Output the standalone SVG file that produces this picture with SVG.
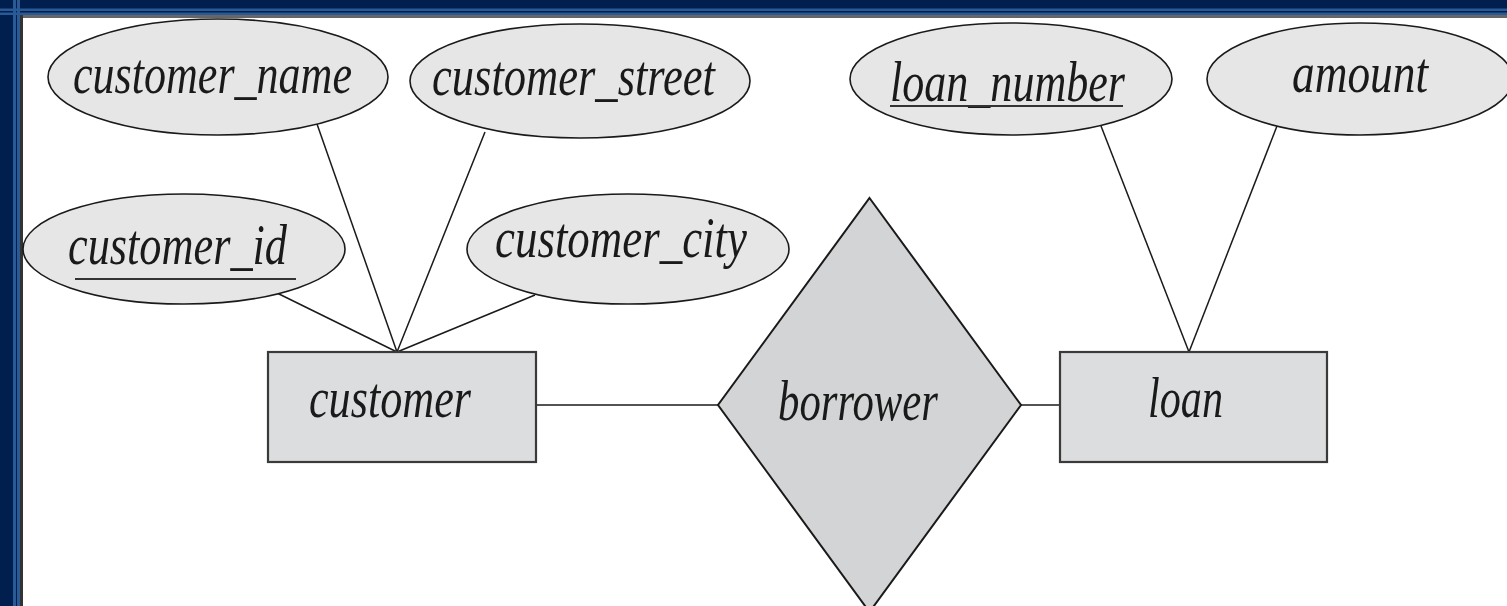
<svg xmlns="http://www.w3.org/2000/svg" width="1507" height="606" viewBox="0 0 1507 606">
<style>
.attr{fill:#e6e6e6;stroke:#1a1a1a;stroke-width:1.6}
.ent{fill:#dcdddf;stroke:#3a3a3a;stroke-width:2.2}
.rel{fill:#d2d4d6;stroke:#1a1a1a;stroke-width:2}
.lbl{font-family:"Liberation Serif","Times New Roman",serif;font-style:italic;font-size:56px;fill:#1a1a1a}
.conn line{stroke:#1a1a1a;stroke-width:1.5}
.ul{stroke:#333;stroke-width:2}
</style>
<rect x="0" y="0" width="1507" height="606" fill="#001f4f"/>
<rect x="0" y="8.5" width="1507" height="2.5" fill="#2a5a96"/>
<rect x="0" y="12.5" width="1507" height="2.5" fill="#2a5a96"/>
<rect x="13" y="0" width="3" height="606" fill="#2a5a96"/>
<rect x="17" y="0" width="3" height="606" fill="#2a5a96"/>
<rect x="20" y="15" width="1487" height="3" fill="#666"/>
<rect x="20" y="15" width="3" height="591" fill="#333"/>
<rect x="23" y="18" width="1484" height="588" fill="#ffffff"/>
<g id="connectors" class="conn">
<line x1="317" y1="124" x2="397" y2="352"/>
<line x1="485" y1="132" x2="397" y2="352"/>
<line x1="277" y1="293" x2="397" y2="352"/>
<line x1="535" y1="295" x2="397" y2="352"/>
<line x1="1101" y1="126" x2="1189" y2="352"/>
<line x1="1277" y1="126" x2="1189" y2="352"/>
<line x1="536" y1="405" x2="718" y2="405"/>
<line x1="1021" y1="405" x2="1060" y2="405"/>
</g>
<g id="customer_name">
<ellipse class="attr" cx="218" cy="77" rx="170" ry="58"/>
<text class="lbl" x="73" y="93" textLength="279" lengthAdjust="spacingAndGlyphs">customer_name</text>
</g>
<g id="customer_street">
<ellipse class="attr" cx="580" cy="81" rx="170" ry="57"/>
<text class="lbl" x="432" y="95" textLength="283" lengthAdjust="spacingAndGlyphs">customer_street</text>
</g>
<g id="customer_id">
<ellipse class="attr" cx="184" cy="249" rx="161" ry="55"/>
<text class="lbl" x="68" y="264" textLength="219" lengthAdjust="spacingAndGlyphs">customer_id</text>
<line class="ul" x1="75" y1="279" x2="296" y2="279"/>
</g>
<g id="customer_city">
<ellipse class="attr" cx="628" cy="249" rx="161" ry="55"/>
<text class="lbl" x="495" y="257" textLength="252" lengthAdjust="spacingAndGlyphs">customer_city</text>
</g>
<g id="loan_number">
<ellipse class="attr" cx="1011" cy="79" rx="161" ry="56"/>
<text class="lbl" x="890" y="101" textLength="235" lengthAdjust="spacingAndGlyphs">loan_number</text>
<line class="ul" x1="890" y1="106" x2="1123" y2="106"/>
</g>
<g id="amount">
<ellipse class="attr" cx="1360" cy="79" rx="153" ry="56"/>
<text class="lbl" x="1292" y="92" textLength="136" lengthAdjust="spacingAndGlyphs">amount</text>
</g>
<g id="customer">
<rect class="ent" x="268" y="352" width="268" height="110"/>
<text class="lbl" x="309" y="417" textLength="162" lengthAdjust="spacingAndGlyphs">customer</text>
</g>
<g id="borrower">
<polygon class="rel" points="869.5,198 1021,405 869.5,612 718,405"/>
<text class="lbl" x="778" y="420" textLength="160" lengthAdjust="spacingAndGlyphs">borrower</text>
</g>
<g id="loan">
<rect class="ent" x="1060" y="352" width="267" height="110"/>
<text class="lbl" x="1148" y="417" textLength="75" lengthAdjust="spacingAndGlyphs">loan</text>
</g>
</svg>
